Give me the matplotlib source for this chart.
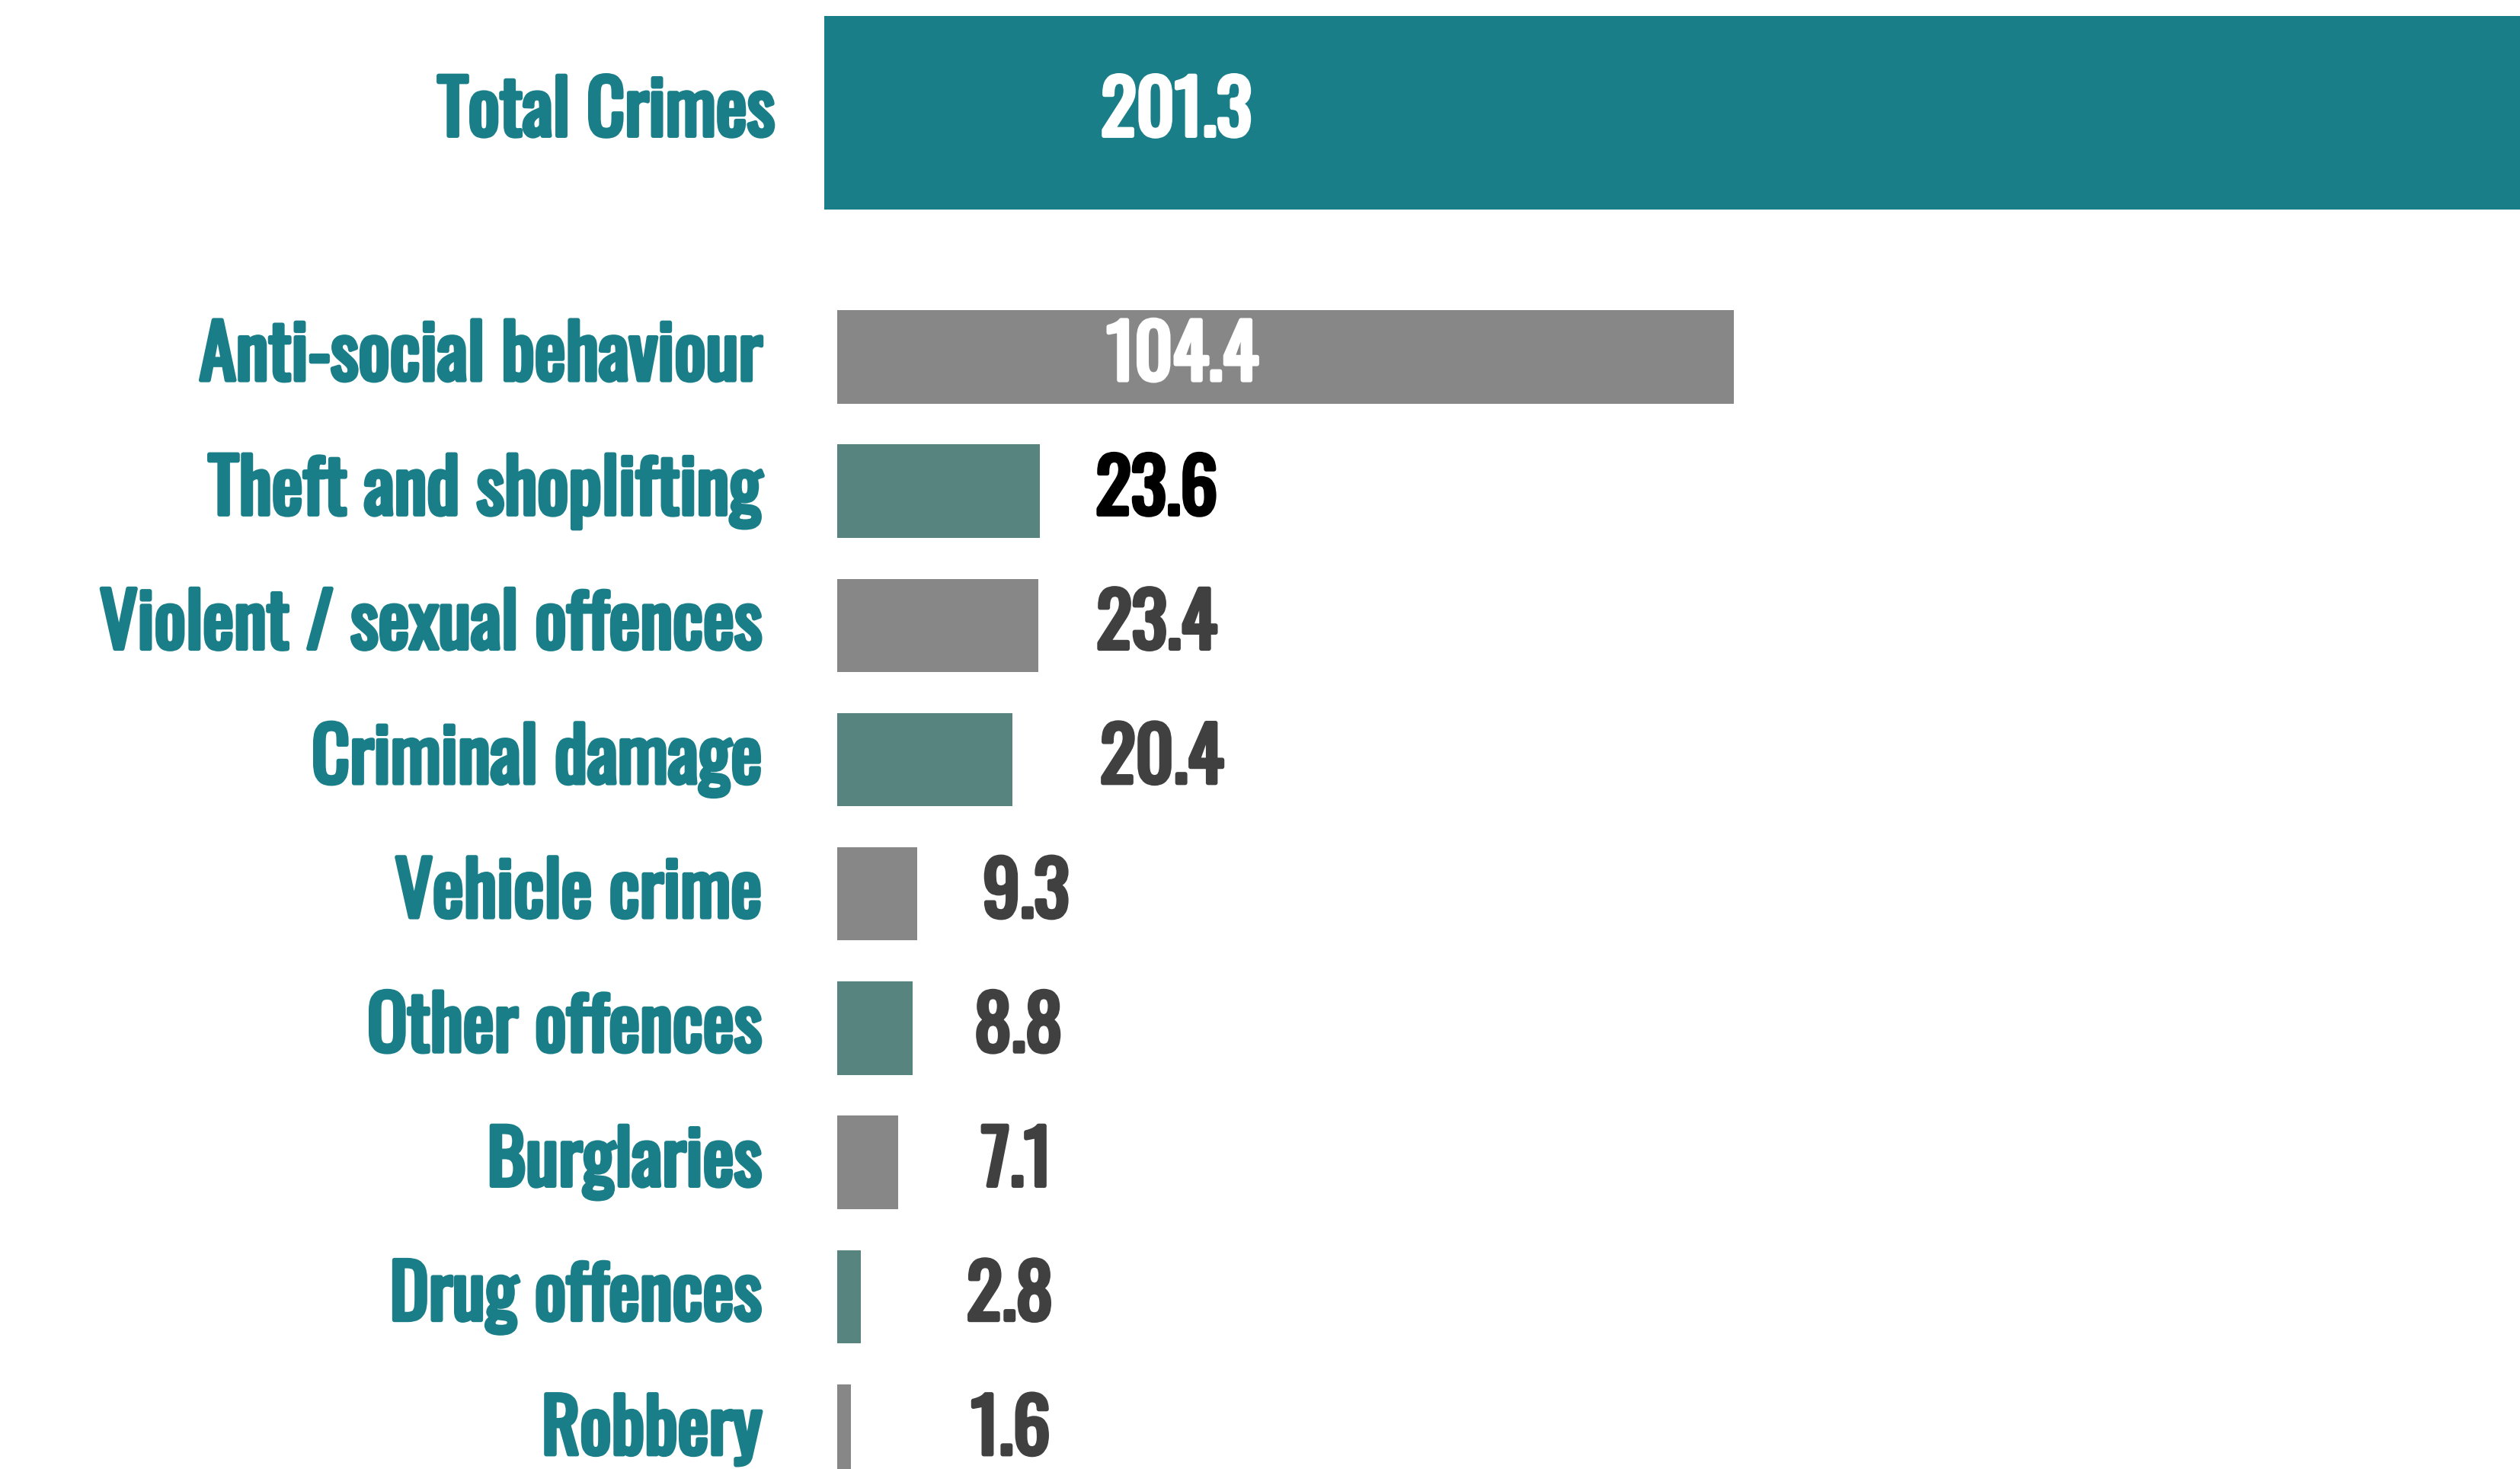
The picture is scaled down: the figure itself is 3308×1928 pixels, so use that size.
import matplotlib
matplotlib.use("Agg")
import matplotlib.pyplot as plt
import matplotlib.patheffects as pe

# ---- data ----
total_label = "Total Crimes"
total_value = 201.3
categories = ["Anti-social behaviour", "Theft and shoplifting", "Violent / sexual offences",
              "Criminal damage", "Vehicle crime", "Other offences", "Burglaries",
              "Drug offences", "Robbery"]
values = [104.4, 23.6, 23.4, 20.4, 9.3, 8.8, 7.1, 2.8, 1.6]
value_text = ["104.4", "23.6", "23.4", "20.4", "9.3", "8.8", "7.1", "2.8", "1.6"]

# ---- styles ----
TEAL = "#1a7e88"
GREY = "#878787"
TEALGREY = "#588480"
bar_colors = [GREY, TEALGREY, GREY, TEALGREY, GREY, TEALGREY, GREY, TEALGREY, GREY]
val_colors = ["white", "black"] + ["#404040"] * 7
label_x_pos = [40.2, 37.2, 37.2, 37.8, 22.0, 21.1, 20.9, 20.1, 20.2]

plt.rcParams["font.family"] = ["Oswald", "DejaVu Sans"]

fig = plt.figure(figsize=(33.08, 19.28), dpi=100)
ax = fig.add_axes([0, 0, 1, 1])
ax.set_xlim(-97.5, 196.0)
ax.set_ylim(8.283, -2.658)
ax.axis("off")

ys = list(range(len(categories)))
total_y = -1.82

ax.barh([total_y], [total_value], left=-1.5, height=1.44, color=TEAL)
ax.barh(ys, values, height=0.695, color=bar_colors)

fs = 70


def bold(color):
    return [pe.withStroke(linewidth=4, foreground=color)]


ax.text(-7.3, total_y, total_label, ha="right", va="center", color=TEAL,
        fontsize=fs, path_effects=bold(TEAL))
ax.text(39.5, total_y, f"{total_value:.1f}", ha="center", va="center", color="white",
        fontsize=fs, path_effects=bold("white"))

for y, cat, vt, vc, lx in zip(ys, categories, value_text, val_colors, label_x_pos):
    ax.text(-8.8, y, cat, ha="right", va="center", color=TEAL, fontsize=fs,
            path_effects=bold(TEAL))
    ax.text(lx, y, vt, ha="center", va="center", color=vc, fontsize=fs,
            path_effects=bold(vc))

fig.savefig("out.png", dpi=100, facecolor="white")
